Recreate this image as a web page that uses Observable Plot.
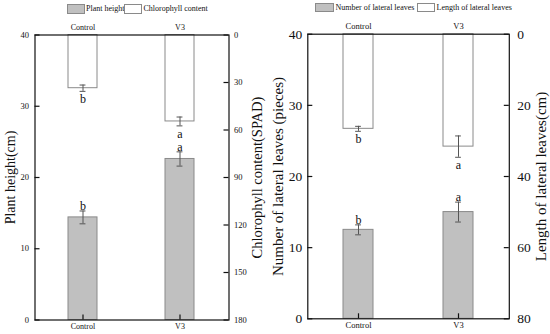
<!DOCTYPE html>
<html>
<head>
<meta charset="utf-8">
<script src="https://cdn.jsdelivr.net/npm/d3@7"></script>
<script src="https://cdn.jsdelivr.net/npm/@observablehq/plot@0.6"></script>
<style>
  html, body { margin: 0; padding: 0; background: white; }
  #wrap { position: relative; width: 550px; height: 334px; overflow: hidden; font-family: "Liberation Serif", serif; }
  #wrap svg { position: absolute; top: 0; background: transparent !important; overflow: visible !important; }
  #wrap svg, #wrap svg text, #wrap svg g { font-family: "Liberation Serif", "Times New Roman", serif !important; }
  .lg { position: absolute; font-size: 8px; line-height: 10px; white-space: nowrap; color: #111; font-family: "Liberation Serif", serif; }
  .sw { position: absolute; box-sizing: border-box; border: 1px solid #8a8a8a; }
</style>
</head>
<body>
<div id="wrap"></div>
<script>
// ---- data ----
const groups = ["Control", "V3"];
// left panel
const plantHeight = [14.4, 22.6];
const plantHeightErr = [0.9, 1.0];
const plantLetters = ["b", "a"];
const chlorophyll = [33.6, 54.6];
const chlorophyllErr = [2.0, 2.8];
const chlLetters = ["b", "a"];
const plantTicks = [0, 10, 20, 30, 40];
const chlTicks = [0, 30, 60, 90, 120, 150, 180];
// right panel
const leafNumber = [12.5, 15.0];
const leafNumberErr = [0.7, 1.4];
const numLetters = ["b", "a"];
const leafLength = [26.6, 31.6];
const leafLengthErr = [0.7, 3.0];
const lenLetters = ["b", "a"];
const numTicks = [0, 10, 20, 30, 40];
const lenTicks = [0, 20, 40, 60, 80];

const GRAY = "#c0c0c0", EDGE = "#8a8a8a", ERR = "#555";

function panel(o) {
  const rows = groups.map((g, i) => ({
    g, p: o.primary[i], pe: o.primaryErr[i], pl: o.primaryLetters[i],
    s: o.secondary[i], se: o.secondaryErr[i], sl: o.secondaryLetters[i]
  }));
  const yMax = o.yTicks[o.yTicks.length - 1];
  const y2Max = o.y2Ticks[o.y2Ticks.length - 1];
  const toY = v => yMax - v * yMax / y2Max;
  const fw = o.width - o.ml - o.mr;
  const fh = o.height - o.mt - o.mb;
  const bw = fw / 2 * 0.3;
  const capInset = (bw - o.cap) / 2;
  return Plot.plot({
    width: o.width, height: o.height,
    marginLeft: o.ml, marginRight: o.mr, marginTop: o.mt, marginBottom: o.mb,
    style: "font-family: 'Liberation Serif', serif; background: transparent; overflow: visible; color: #111;",
    x: { type: "band", domain: groups, paddingInner: 0.7, paddingOuter: 0.35 },
    y: { domain: [0, yMax] },
    marks: [
      Plot.barY(rows, { x: "g", y1: 0, y2: "p", fill: GRAY, stroke: EDGE, strokeWidth: 1 }),
      Plot.barY(rows, { x: "g", y1: yMax, y2: d => toY(d.s), fill: "white", stroke: EDGE, strokeWidth: 1 }),
      // error bars primary
      Plot.ruleX(rows, { x: "g", y1: d => d.p - d.pe, y2: d => d.p + d.pe, stroke: ERR }),
      Plot.tickY(rows, { x: "g", y: d => d.p - d.pe, insetLeft: capInset, insetRight: capInset, stroke: ERR }),
      Plot.tickY(rows, { x: "g", y: d => d.p + d.pe, insetLeft: capInset, insetRight: capInset, stroke: ERR }),
      // error bars secondary
      Plot.ruleX(rows, { x: "g", y1: d => toY(d.s - d.se), y2: d => toY(d.s + d.se), stroke: ERR }),
      Plot.tickY(rows, { x: "g", y: d => toY(d.s - d.se), insetLeft: capInset, insetRight: capInset, stroke: ERR }),
      Plot.tickY(rows, { x: "g", y: d => toY(d.s + d.se), insetLeft: capInset, insetRight: capInset, stroke: ERR }),
      // letters
      Plot.text(rows, { x: "g", y: d => d.p + d.pe, text: "pl", lineAnchor: "bottom", dy: -1, fontSize: o.letterFont, fill: "#111" }),
      Plot.text(rows, { x: "g", y: d => toY(d.s + d.se), text: "sl", lineAnchor: "top", dy: 3.5, fontSize: o.letterFont, fill: "#111" }),
      Plot.frame({ stroke: "#111", strokeWidth: 1.2 }),
      // inward ticks
      Plot.tickY(o.yTicks, { y: d => d, insetRight: fw - 5, stroke: "#111", strokeWidth: 1.2 }),
      Plot.tickY(o.y2Ticks.map(toY), { y: d => d, insetLeft: fw - 5, stroke: "#111", strokeWidth: 1.2 }),
      Plot.tickX(groups, { x: d => d, insetTop: fh - 5, stroke: "#111", strokeWidth: 1.2 }),
      // axes
      Plot.axisY({ ticks: o.yTicks, tickSize: 0, tickPadding: o.padL, fontSize: o.tickFont, label: null }),
      Plot.axisY({ anchor: "right", ticks: o.y2Ticks.map(toY), tickFormat: d => Math.round((yMax - d) * y2Max / yMax),
                   tickSize: 0, tickPadding: o.padR, fontSize: o.tickFont, label: null }),
      Plot.axisX({ anchor: "top", tickSize: 0, tickPadding: o.padTop, fontSize: o.catFont, label: null }),
      Plot.axisX({ anchor: "bottom", tickSize: 0, tickPadding: o.padBottom, fontSize: o.catFont, label: null }),
      // titles
      Plot.text([o.yLabel], { frameAnchor: "left", dx: o.titleLdx, rotate: -90, lineAnchor: "middle", textAnchor: "middle", fontSize: o.titleFontL, fill: "#111" }),
      Plot.text([o.y2Label], { frameAnchor: "right", dx: o.titleRdx, rotate: -90, lineAnchor: "middle", textAnchor: "middle", fontSize: o.titleFontR, fill: "#111" })
    ]
  });
}

const wrap = document.getElementById("wrap");

const left = panel({
  width: 275, height: 334, ml: 34.5, mr: 46.5, mt: 34.5, mb: 14.5,
  primary: plantHeight, primaryErr: plantHeightErr, primaryLetters: plantLetters,
  secondary: chlorophyll, secondaryErr: chlorophyllErr, secondaryLetters: chlLetters,
  yTicks: plantTicks, y2Ticks: chlTicks,
  yLabel: "Plant height(cm)", y2Label: "Chlorophyll content(SPAD)",
  tickFont: 8.5, catFont: 8, letterFont: 12, cap: 6,
  padL: 6, padR: 5, padTop: 5, padBottom: 3,
  titleLdx: -24, titleRdx: 28, titleFontL: 14, titleFontR: 14.5
});
left.style.left = "0px";
wrap.appendChild(left);

const right = panel({
  width: 288, height: 334, ml: 45.3, mr: 41.2, mt: 33.7, mb: 15.7,
  primary: leafNumber, primaryErr: leafNumberErr, primaryLetters: numLetters,
  secondary: leafLength, secondaryErr: leafLengthErr, secondaryLetters: lenLetters,
  yTicks: numTicks, y2Ticks: lenTicks,
  yLabel: "Number of lateral leaves (pieces)", y2Label: "Length of lateral leaves(cm)",
  tickFont: 13.5, catFont: 8.5, letterFont: 12, cap: 6,
  padL: 5.5, padR: 8, padTop: 5, padBottom: 3,
  titleLdx: -30, titleRdx: 32, titleFontL: 15, titleFontR: 15
});
right.style.left = "262px";
wrap.appendChild(right);

// legends
function legendItem(x, y, w, h, fill, label, tx) {
  const sw = document.createElement("div");
  sw.className = "sw";
  Object.assign(sw.style, { left: x + "px", top: y + "px", width: w + "px", height: h + "px", background: fill });
  wrap.appendChild(sw);
  const t = document.createElement("div");
  t.className = "lg";
  t.textContent = label;
  Object.assign(t.style, { left: tx + "px", top: (y + h / 2 - 5) + "px" });
  wrap.appendChild(t);
}
legendItem(67, 4, 17.5, 10, GRAY, "Plant height", 86);
legendItem(124, 4, 17.5, 10, "white", "Chlorophyll content", 143.5);
legendItem(315, 3, 18.5, 9, GRAY, "Number of lateral leaves", 335.5);
legendItem(416.5, 3, 18, 9, "white", "Length of lateral leaves", 436.5);
</script>
</body>
</html>
